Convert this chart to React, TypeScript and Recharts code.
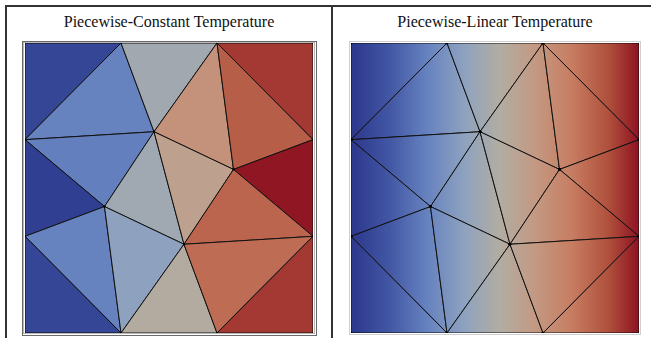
import React from "react";
import { ScatterChart, Scatter, XAxis, YAxis } from "recharts";

// mesh vertices in the unit square (y measured upwards)
const vertexX = [
  0, 1 / 3, 2 / 3, 1, 0, 1, 0, 1, 0, 1 / 3, 2 / 3, 1, 0.448, 0.724, 0.276, 0.552,
];
const vertexY = [
  1, 1, 1, 1, 2 / 3, 2 / 3, 1 / 3, 1 / 3, 0, 0, 0, 0, 0.694, 0.564, 0.436, 0.306,
];

// triangles as vertex indices
const triangles = [
  [0, 1, 4],
  [1, 12, 4],
  [1, 2, 12],
  [2, 13, 12],
  [2, 3, 5],
  [2, 5, 13],
  [4, 12, 14],
  [4, 14, 6],
  [12, 15, 14],
  [12, 13, 15],
  [13, 5, 7],
  [13, 7, 15],
  [6, 14, 9],
  [6, 9, 8],
  [14, 15, 9],
  [15, 10, 9],
  [15, 7, 10],
  [7, 11, 10],
];

// one temperature per cell for the piecewise-constant panel (0 = cold, 1 = hot)
const cellTemperature = [
  0.05, 0.25, 0.45, 0.66, 0.92, 0.84, 0.24, 0.02, 0.44, 0.58, 0.98, 0.82, 0.25,
  0.05, 0.38, 0.51, 0.8, 0.92,
];

// colour map
const mapPositions = [0, 0.12, 0.25, 0.38, 0.5, 0.62, 0.75, 0.88, 1];
const mapColors = [
  "#2e3a8e",
  "#4257a4",
  "#6682bf",
  "#8ea2bf",
  "#b1ada3",
  "#c39a84",
  "#c77e62",
  "#b0503c",
  "#8a0a1e",
];

const titles = ["Piecewise-Constant Temperature", "Piecewise-Linear Temperature"];

const hexToRgb = (h: string) => [
  parseInt(h.slice(1, 3), 16),
  parseInt(h.slice(3, 5), 16),
  parseInt(h.slice(5, 7), 16),
];

function colorAt(t: number) {
  for (let i = 1; i < mapPositions.length; i++) {
    if (t <= mapPositions[i]) {
      const f = (t - mapPositions[i - 1]) / (mapPositions[i] - mapPositions[i - 1]);
      const a = hexToRgb(mapColors[i - 1]);
      const b = hexToRgb(mapColors[i]);
      const c = a.map((v, k) => Math.round(v + (b[k] - v) * f));
      return `rgb(${c[0]},${c[1]},${c[2]})`;
    }
  }
  return mapColors[mapColors.length - 1];
}

const trianglePoints = (tri: number[]) =>
  [...tri, tri[0]].map((i) => ({ x: vertexX[i], y: vertexY[i] }));

const SIZE = 338;
const LINE = "#333";

function Dot(props: { cx?: number; cy?: number; r: number }) {
  const { cx = 0, cy = 0, r } = props;
  return <circle cx={cx} cy={cy} r={r} fill="#000" />;
}

function MeshChart({
  width,
  margin,
  linear,
}: {
  width: number;
  margin: { top: number; right: number; bottom: number; left: number };
  linear?: boolean;
}) {
  return (
    <ScatterChart width={width} height={SIZE} margin={margin}>
      <defs>
        <linearGradient
          id="tempGradient"
          gradientUnits="userSpaceOnUse"
          x1={margin.left}
          y1={0}
          x2={width - margin.right}
          y2={0}
        >
          {mapColors.map((c, i) => (
            <stop key={i} offset={mapPositions[i]} stopColor={c} />
          ))}
        </linearGradient>
      </defs>
      <XAxis type="number" dataKey="x" domain={[0, 1]} allowDataOverflow hide />
      <YAxis type="number" dataKey="y" domain={[0, 1]} allowDataOverflow hide />
      {triangles.map((tri, i) => {
        const fill = linear ? "url(#tempGradient)" : colorAt(cellTemperature[i]);
        return (
          <Scatter
            key={i}
            data={trianglePoints(tri)}
            fill={fill}
            line={{ fill, stroke: "#111", strokeWidth: 1 }}
            shape={(p: any) => <Dot {...p} r={linear ? 1.3 : 0.9} />}
            isAnimationActive={false}
          />
        );
      })}
    </ScatterChart>
  );
}

const titleStyle: React.CSSProperties = {
  position: "absolute",
  top: 13,
  fontFamily: "'Liberation Serif', 'Times New Roman', serif",
  fontSize: 16,
  lineHeight: "18px",
  color: "#111",
  textAlign: "center",
  whiteSpace: "nowrap",
};

export default function App() {
  return (
    <div
      style={{
        position: "absolute",
        left: 0,
        top: 0,
        width: 651,
        height: SIZE,
        background: "#fff",
        overflow: "hidden",
      }}
    >
      {/* table frame */}
      <div style={{ position: "absolute", left: 5, top: 5, width: 646, height: 2, background: LINE }} />
      <div style={{ position: "absolute", left: 5, top: 5, width: 2, height: 333, background: LINE }} />
      <div style={{ position: "absolute", left: 331, top: 5, width: 2, height: 333, background: LINE }} />

      <div style={{ ...titleStyle, left: 19, width: 300 }}>{titles[0]}</div>
      <div style={{ ...titleStyle, left: 345, width: 300 }}>{titles[1]}</div>

      {/* plot borders */}
      <div
        style={{
          position: "absolute",
          left: 22,
          top: 41,
          width: 293,
          height: 293,
          border: "1px solid #6a6a6a",
        }}
      />
      <div
        style={{
          position: "absolute",
          left: 23,
          top: 42,
          width: 290,
          height: 290,
          border: "1px solid #b8b8b8",
        }}
      />
      <div
        style={{
          position: "absolute",
          left: 349,
          top: 41,
          width: 290,
          height: 292,
          border: "1px solid #cfcfcf",
        }}
      />

      <div style={{ position: "absolute", left: 0, top: 0 }}>
        <MeshChart width={338} margin={{ top: 43, right: 25, bottom: 5, left: 25 }} />
      </div>
      <div style={{ position: "absolute", left: 330, top: 0 }}>
        <MeshChart width={321} margin={{ top: 43, right: 12, bottom: 5, left: 21 }} linear />
      </div>
    </div>
  );
}
